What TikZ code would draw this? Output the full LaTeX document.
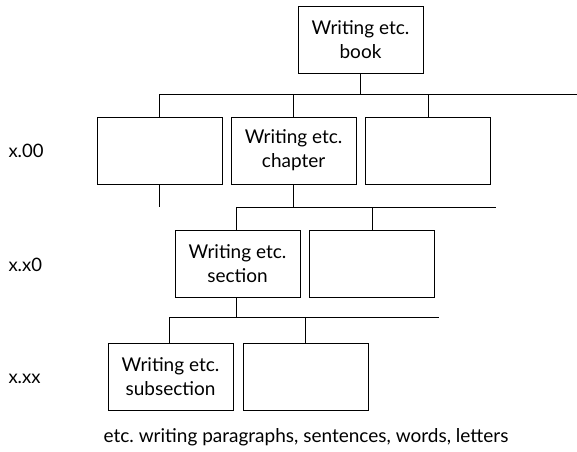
\documentclass[tikz,border=0pt]{standalone}
\usepackage{fontspec}
\setmainfont{Lato}
\frenchspacing
\begin{document}
\begin{tikzpicture}[x=1pt,y=-1pt,
  unit/.style={draw, line width=1pt, minimum width=125pt, minimum height=67pt,
    inner sep=0pt, align=center, font=\fontsize{19}{24}\selectfont},
  level/.style={anchor=west, font=\fontsize{18.5}{22}\selectfont},
  link/.style={line width=1pt}]
\useasboundingbox (0,0) rectangle (577,451);

% book
\node[unit] (book) at (360.5,39.5) {Writing etc.\\book};

% chapters
\node[unit] (c1) at (159.5,150.5) {};
\node[unit] (c2) at (293.6,150.5) {Writing etc.\\chapter};
\node[unit] (c3) at (428.2,150.5) {};

% sections
\node[unit] (s1) at (237.5,263.5) {Writing etc.\\section};
\node[unit] (s2) at (372,263.5) {};

% subsections
\node[unit] (u1) at (170.5,376.5) {Writing etc.\\subsection};
\node[unit] (u2) at (305.5,376.5) {};

% level numbers
\node[level] (l1) at (5,151) {x.00};
\node[level] (l2) at (5,265) {x.x0};
\node[level] (l3) at (5,379) {x.xx};

\node[font=\fontsize{19}{22}\selectfont] (note) at (306,437)
  {etc. writing paragraphs, sentences, words, letters};

% buses
\coordinate (b1L) at (159.5,94.3);
\coordinate (b1R) at (577,94.3);
\coordinate (b2L) at (236.6,207);
\coordinate (b2R) at (496,207);
\coordinate (b3L) at (169,317);
\coordinate (b3R) at (438.6,317);

\draw[link] (b1L) -- (b1R);
\draw[link] (book.south) -- (book.south |- b1L);
\draw[link] (c1.north) -- (c1.north |- b1L);
\draw[link] (c2.north) -- (c2.north |- b1L);
\draw[link] (c3.north) -- (c3.north |- b1L);

\draw[link] (b2L) -- (b2R);
\draw[link] (c1.south) -- (c1.south |- b2L);
\draw[link] (c2.south) -- (c2.south |- b2L);
\draw[link] (b2L) -- (b2L |- s1.north);
\draw[link] (b2L -| s2.north) -- (s2.north);

\draw[link] (b3L) -- (b3R);
\draw[link] (s1.south -| b2L) -- (b2L |- b3L);
\draw[link] (b3L) -- (b3L |- u1.north);
\draw[link] (b3L -| u2.north) -- (u2.north);
\end{tikzpicture}
\end{document}
